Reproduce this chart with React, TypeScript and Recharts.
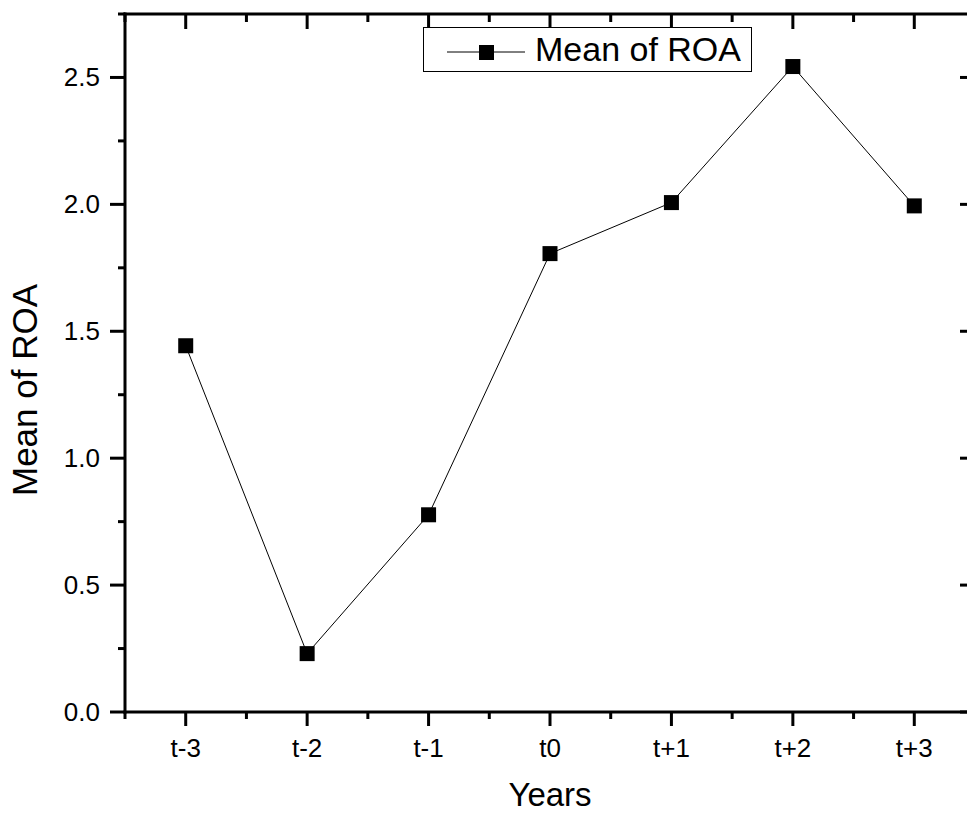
import { Legend, Line, LineChart, XAxis, YAxis } from "recharts";

const YEARS = ["t-3", "t-2", "t-1", "t0", "t+1", "t+2", "t+3"];
const MEAN_ROA = [1.443, 0.23, 0.777, 1.806, 2.007, 2.543, 1.994];
const Y_TICKS = [0, 0.25, 0.5, 0.75, 1, 1.25, 1.5, 1.75, 2, 2.25, 2.5, 2.75];
const X_TICKS = [-0.5, 0, 0.5, 1, 1.5, 2, 2.5, 3, 3.5, 4, 4.5, 5, 5.5, 6, 6.5];

const FONT = "'Liberation Sans', Arial, Helvetica, sans-serif";
const MAJOR = 15;
const MINOR = 7;

const data = YEARS.map((label, i) => ({ idx: i, label, roa: MEAN_ROA[i] }));

const isMajorY = (v: number) => Math.abs(v * 2 - Math.round(v * 2)) < 1e-6;
const isMajorX = (v: number) => Number.isInteger(v);

function LeftTick({ x, y, payload }: any) {
  const v = payload.value;
  const major = isMajorY(v);
  return (
    <g>
      <line x1={x - (major ? MAJOR : MINOR)} x2={x} y1={y} y2={y} stroke="#000" strokeWidth={3} />
      {major && (
        <text x={x - 25} y={y + 9} textAnchor="end" fontSize={26} fontFamily={FONT} fill="#000">
          {v.toFixed(1)}
        </text>
      )}
    </g>
  );
}

// right and top axes: ticks point into the plot
function RightTick({ x, y, payload }: any) {
  const major = isMajorY(payload.value);
  return <line x1={x} x2={x - (major ? MAJOR : MINOR)} y1={y} y2={y} stroke="#000" strokeWidth={3} />;
}

function BottomTick({ x, y, payload }: any) {
  const v = payload.value;
  const major = isMajorX(v);
  return (
    <g>
      <line x1={x} x2={x} y1={y} y2={y + (major ? 14 : MINOR)} stroke="#000" strokeWidth={3} />
      {major && (
        <text x={x} y={y + 45} textAnchor="middle" fontSize={26} fontFamily={FONT} fill="#000">
          {YEARS[v]}
        </text>
      )}
    </g>
  );
}

function TopTick({ x, y, payload }: any) {
  const major = isMajorX(payload.value);
  return <line x1={x} x2={x} y1={y} y2={y + (major ? MAJOR : 8)} stroke="#000" strokeWidth={3} />;
}

function SquareDot({ cx, cy }: any) {
  if (cx == null || cy == null) return null;
  return <rect x={cx - 7.5} y={cy - 7.5} width={15} height={15} fill="#000" />;
}

function LegendBox() {
  return (
    <div
      style={{
        width: 327,
        height: 43,
        border: "1px solid #000",
        background: "#fff",
        display: "flex",
        alignItems: "center",
        fontFamily: FONT,
        fontSize: 34,
        color: "#000",
        boxSizing: "content-box",
      }}
    >
      <svg width={110} height={43} style={{ display: "block" }}>
        <line x1={23} x2={101} y1={24} y2={24} stroke="#000" strokeWidth={1} />
        <rect x={55} y={17} width={15} height={15} fill="#000" />
      </svg>
      <span style={{ marginLeft: 1, lineHeight: "43px" }}>Mean of ROA</span>
    </div>
  );
}

const axisLine = { stroke: "#000", strokeWidth: 3, strokeLinecap: "square" as const };

export default function App() {
  return (
    <div
      style={{
        position: "absolute",
        left: 0,
        top: 0,
        width: 967,
        height: 813,
        overflow: "hidden",
        background: "#fff",
      }}
    >
      <LineChart width={1000} height={813} data={data} margin={{ top: 0, right: 0, bottom: 0, left: 0 }}>
        <XAxis
          dataKey="idx"
          type="number"
          domain={[-0.5, 6.5]}
          ticks={X_TICKS}
          interval={0}
          height={101}
          tickSize={0}
          tickMargin={0}
          tickLine={false}
          axisLine={axisLine}
          tick={<BottomTick />}
          allowDataOverflow
          label={{
            content: ({ viewBox }: any) => (
              <text
                x={viewBox.x + viewBox.width / 2}
                y={viewBox.y + 94}
                textAnchor="middle"
                fontSize={33}
                fontFamily={FONT}
                fill="#000"
              >
                Years
              </text>
            ),
          }}
        />
        <XAxis
          xAxisId="top"
          dataKey="idx"
          orientation="top"
          type="number"
          domain={[-0.5, 6.5]}
          ticks={X_TICKS}
          interval={0}
          height={14}
          tickSize={0}
          tickMargin={0}
          tickLine={false}
          axisLine={axisLine}
          tick={<TopTick />}
          allowDataOverflow
        />
        <YAxis
          type="number"
          domain={[0, 2.75]}
          ticks={Y_TICKS}
          interval={0}
          width={125}
          tickSize={0}
          tickMargin={0}
          tickLine={false}
          axisLine={axisLine}
          tick={<LeftTick />}
          allowDataOverflow
          label={{
            content: ({ viewBox }: any) => {
              const lx = viewBox.x + 37;
              const ly = viewBox.y + viewBox.height / 2 + 27;
              return (
                <text
                  x={lx}
                  y={ly}
                  transform={`rotate(-90 ${lx} ${ly})`}
                  textAnchor="middle"
                  fontSize={35}
                  fontFamily={FONT}
                  fill="#000"
                >
                  Mean of ROA
                </text>
              );
            },
          }}
        />
        <YAxis
          yAxisId="right"
          dataKey="roa"
          orientation="right"
          type="number"
          domain={[0, 2.75]}
          ticks={Y_TICKS}
          interval={0}
          width={25}
          tickSize={0}
          tickMargin={0}
          tickLine={false}
          axisLine={axisLine}
          tick={<RightTick />}
          allowDataOverflow
        />
        <Legend
          layout="horizontal"
          verticalAlign="middle"
          align="center"
          content={() => <LegendBox />}
          wrapperStyle={{ position: "absolute", left: 423, top: 27, width: "auto" }}
        />
        <Line
          type="linear"
          dataKey="roa"
          name="Mean of ROA"
          stroke="#000"
          strokeWidth={1}
          dot={<SquareDot />}
          activeDot={false}
          isAnimationActive={false}
        />
      </LineChart>
    </div>
  );
}
